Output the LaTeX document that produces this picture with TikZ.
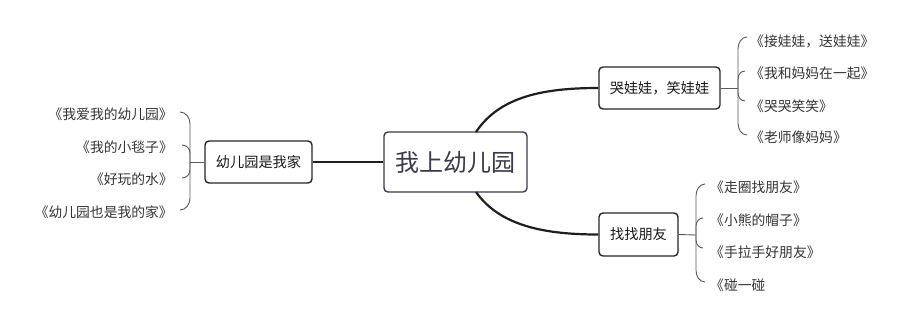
\documentclass[tikz,border=0pt]{standalone}
\usepackage{fontspec}
\setmainfont{Noto Sans CJK SC}
\definecolor{mainc}{HTML}{3A3A4A}
\definecolor{brc}{HTML}{5A5A5A}
\definecolor{leafc}{HTML}{333333}
\begin{document}
\begin{tikzpicture}[x=1pt,y=-1pt,
  mainbox/.style={draw=mainc,line width=1.4pt,rounded corners=4pt,fill=white,
    minimum width=143pt,minimum height=60pt,inner sep=0pt,
    font=\fontsize{24}{26}\selectfont,text=mainc},
  topic/.style={draw=black!85,line width=1.4pt,rounded corners=4pt,fill=white,
    minimum height=42pt,inner sep=0pt,font=\fontsize{14.2}{16}\selectfont,text=black!90},
  leaf/.style={inner sep=0pt,font=\fontsize{13.8}{15}\selectfont,text=leafc},
  conn/.style={draw=black!88,line width=2.2pt},
  br/.style={draw=brc,line width=0.9pt}]
\useasboundingbox (0,0) rectangle (916,325);
% nodes
\node[mainbox] (c) at (455.5,162) {我上幼儿园};
\node[topic,minimum width=107pt] (l) at (258.5,162) {幼儿园是我家};
\node[topic,minimum width=121pt] (r1) at (659.5,88) {哭娃娃，笑娃娃};
\node[topic,minimum width=79pt,minimum height=43pt] (r2) at (638.5,234.5) {找找朋友};
% main connectors
\draw[conn] (l.east) -- (c.west);
\coordinate (ct) at (476,132);
\coordinate (cb) at (476,192);
\draw[conn] (ct) .. controls (500,96) and (545,88) .. (r1.west);
\draw[conn] (cb) .. controls (500,226) and (545,234.5) .. (r2.west);
% left leaves
\node[leaf,anchor=east] (ll1) at (173,114) {《我爱我的幼儿园》};
\node[leaf,anchor=east] (ll2) at (173,147) {《我的小毯子》};
\node[leaf,anchor=east] (ll3) at (173,179) {《好玩的水》};
\node[leaf,anchor=east] (ll4) at (173,212) {《幼儿园也是我的家》};
\coordinate (lh) at (190,162);
\coordinate (lt1) at (180,112);
\coordinate (lt2) at (182,145);
\coordinate (lt3) at (182,178);
\coordinate (lt4) at (180,210);
\draw[br] (l.west) -- (lh);
\draw[br] (lh) -- (190,124) to[out=90,in=0] (lt1);
\draw[br] (lh) -- (190,153) to[out=90,in=0] (lt2);
\draw[br] (lh) -- (190,170) to[out=-90,in=0] (lt3);
\draw[br] (lh) -- (190,198) to[out=-90,in=0] (lt4);
% right top leaves
\node[leaf,anchor=west] (a1) at (750,41) {《接娃娃，送娃娃》};
\node[leaf,anchor=west] (a2) at (750,73) {《我和妈妈在一起》};
\node[leaf,anchor=west] (a3) at (750,106) {《哭哭笑笑》};
\node[leaf,anchor=west] (a4) at (750,137) {《老师像妈妈》};
\coordinate (rh1) at (738,88);
\coordinate (at1) at (747,37);
\coordinate (at2) at (745,71);
\coordinate (at3) at (745,101);
\coordinate (at4) at (747,135);
\draw[br] (r1.east) -- (rh1);
\draw[br] (rh1) -- (738,49) to[out=90,in=180] (at1);
\draw[br] (rh1) -- (738,79) to[out=90,in=180] (at2);
\draw[br] (rh1) -- (738,93) to[out=-90,in=180] (at3);
\draw[br] (rh1) -- (738,123) to[out=-90,in=180] (at4);
% right bottom leaves
\node[leaf,anchor=west] (b1) at (710,187) {《走圈找朋友》};
\node[leaf,anchor=west] (b2) at (710,220) {《小熊的帽子》};
\node[leaf,anchor=west] (b3) at (710,252) {《手拉手好朋友》};
\node[leaf,anchor=west] (b4) at (710,285) {《碰一碰};
\coordinate (rh2) at (696,235);
\coordinate (bt1) at (705,184);
\coordinate (bt2) at (703,218);
\coordinate (bt3) at (703,248);
\coordinate (bt4) at (705,282);
\draw[br] (r2.east) -- (rh2);
\draw[br] (rh2) -- (696,196) to[out=90,in=180] (bt1);
\draw[br] (rh2) -- (696,226) to[out=90,in=180] (bt2);
\draw[br] (rh2) -- (696,240) to[out=-90,in=180] (bt3);
\draw[br] (rh2) -- (696,270) to[out=-90,in=180] (bt4);
\end{tikzpicture}
\end{document}
